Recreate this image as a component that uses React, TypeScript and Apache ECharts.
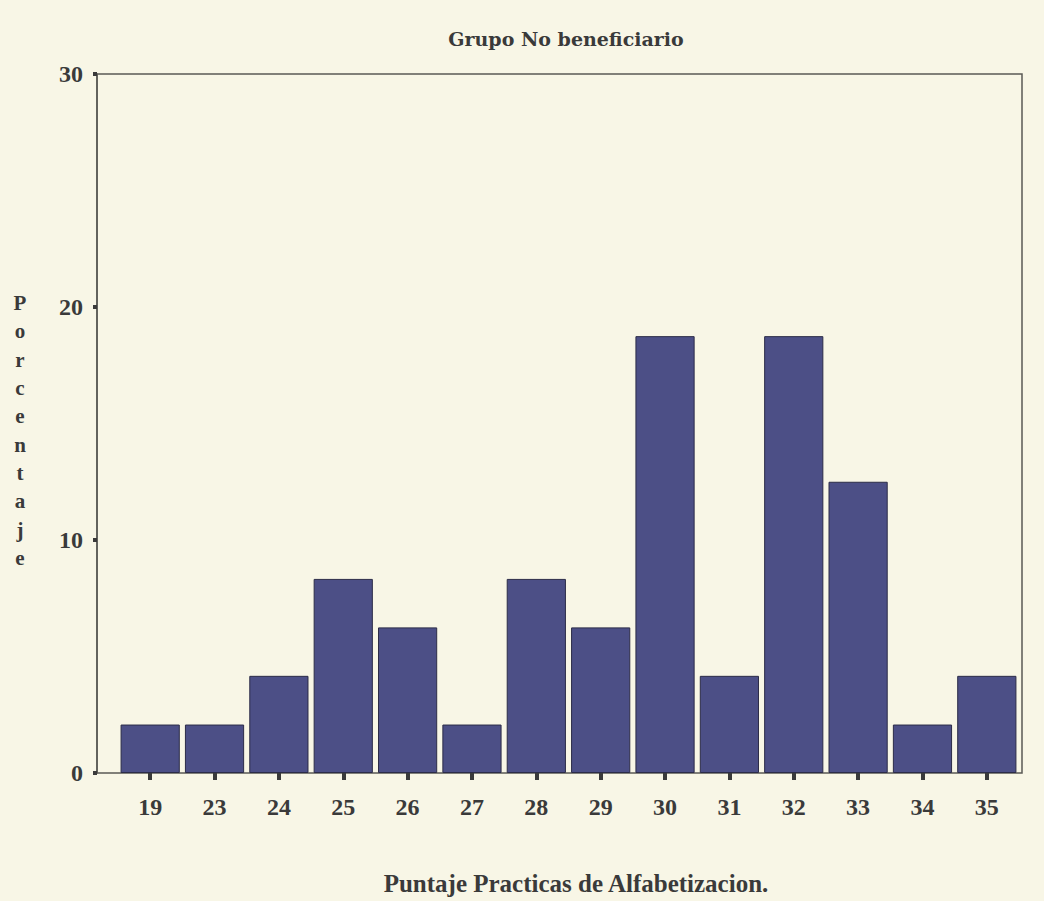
import React, { useEffect, useRef } from "react";
import * as echarts from "echarts";

const categories = ["19", "23", "24", "25", "26", "27", "28", "29", "30", "31", "32", "33", "34", "35"];
const percentages = [2.08, 2.08, 4.17, 8.33, 6.25, 2.08, 8.33, 6.25, 18.75, 4.17, 18.75, 12.5, 2.08, 4.17];
const yTicks = { min: 0, max: 30, interval: 10 };
const titleText = "Grupo No beneficiario";
const xTitle = "Puntaje Practicas de Alfabetizacion.";
const yTitle = "Porcentaje";

const FONT = "'Liberation Serif', 'Times New Roman', serif";
const TITLE_FONT = "'DejaVu Serif', serif";
const BG = "#f8f6e6";
const TXT = "#3a3a3a";

export default function App() {
  const ref = useRef<HTMLDivElement>(null);
  useEffect(() => {
    if (!ref.current) return;
    const chart = echarts.init(ref.current, null, { renderer: "svg" });
    chart.setOption({
      animation: false,
      backgroundColor: BG,
      grid: [
        { left: 97, top: 74, width: 925, height: 699, show: true, borderColor: "#5a5a55", borderWidth: 1.5, backgroundColor: "transparent" },
        { left: 118, top: 74, width: 901, height: 699 },
      ],
      xAxis: [
        { type: "value", gridIndex: 0, show: false, min: 0, max: 1 },
        {
          type: "category",
          gridIndex: 1,
          data: categories,
          axisLine: { show: false },
          axisTick: { show: true, alignWithLabel: true, length: 7, lineStyle: { color: "#3a3a3a", width: 4 } },
          axisLabel: { margin: 22, fontFamily: FONT, fontSize: 24, fontWeight: "bold", color: TXT },
        },
      ],
      yAxis: [
        { type: "value", gridIndex: 0, show: false, min: 0, max: 1 },
        {
          type: "value",
          gridIndex: 1,
          min: yTicks.min,
          max: yTicks.max,
          interval: yTicks.interval,
          offset: 21,
          axisLine: { show: true, lineStyle: { color: "#5a5a55", width: 1.5 } },
          axisTick: { show: true, length: 4, lineStyle: { color: "#3a3a3a", width: 4 } },
          axisLabel: { margin: 14, fontFamily: FONT, fontSize: 24, fontWeight: "bold", color: TXT },
          splitLine: { show: false },
        },
      ],
      series: [
        {
          type: "bar",
          xAxisIndex: 1,
          yAxisIndex: 1,
          data: percentages,
          barCategoryGap: "8%",
          itemStyle: { color: "#4c4f86", borderColor: "#2c2c48", borderWidth: 1 },
        },
      ],
      graphic: [
        {
          type: "text",
          x: 566,
          y: 39,
          style: { text: titleText, fontFamily: TITLE_FONT, fontSize: 19, fontWeight: "bold", fill: TXT, align: "center", verticalAlign: "middle" },
        },
        {
          type: "text",
          x: 576,
          y: 883,
          style: { text: xTitle, fontFamily: FONT, fontSize: 25, fontWeight: "bold", fill: TXT, align: "center", verticalAlign: "middle" },
        },
        {
          type: "text",
          x: 20,
          y: 289,
          style: { text: yTitle.split("").join("\n"), fontFamily: FONT, fontSize: 21, fontWeight: "bold", fill: TXT, align: "center", lineHeight: 28.3 },
        },
      ],
    });
    return () => chart.dispose();
  }, []);
  return <div ref={ref} style={{ position: "fixed", left: 0, top: 0, width: 1044, height: 901, background: BG }} />;
}
